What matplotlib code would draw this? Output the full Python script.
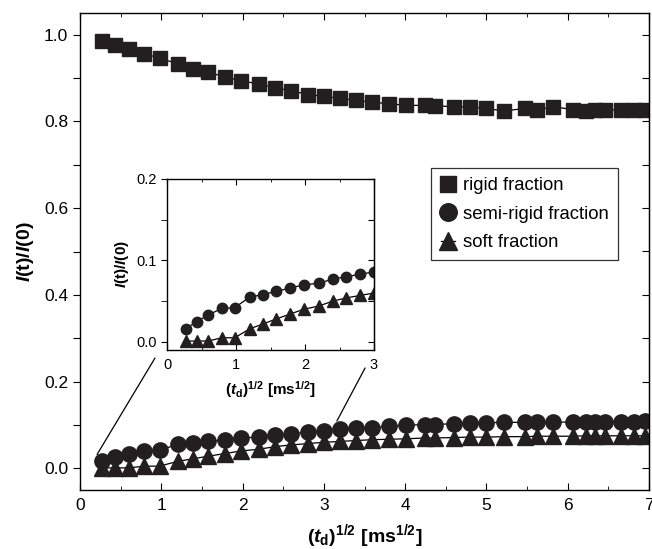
import matplotlib
matplotlib.use('Agg')
import matplotlib.pyplot as plt
from matplotlib.patches import ConnectionPatch
from matplotlib.ticker import MultipleLocator

plt.rcParams['font.family'] = ['Liberation Sans', 'DejaVu Sans']
plt.rcParams['mathtext.fontset'] = 'custom'
plt.rcParams['mathtext.rm'] = 'Liberation Sans:bold'
plt.rcParams['mathtext.bf'] = 'Liberation Sans:bold'
plt.rcParams['mathtext.it'] = 'Liberation Sans:italic:bold'

# sqrt of dipolar filter time [ms^1/2]
td_sqrt = [0.27, 0.43, 0.60, 0.79, 0.98, 1.20, 1.39, 1.58, 1.78, 1.98, 2.20, 2.40,
           2.60, 2.80, 3.00, 3.20, 3.39, 3.59, 3.80, 4.01, 4.24, 4.37, 4.60, 4.80,
           4.99, 5.22, 5.47, 5.62, 5.82, 6.07, 6.22, 6.34, 6.46, 6.66, 6.82, 6.95]

rigid = [0.985, 0.977, 0.967, 0.956, 0.946, 0.933, 0.922, 0.913, 0.903, 0.893, 0.887, 0.877,
         0.871, 0.862, 0.858, 0.853, 0.849, 0.844, 0.841, 0.837, 0.837, 0.836, 0.834, 0.833,
         0.830, 0.824, 0.830, 0.826, 0.834, 0.827, 0.824, 0.826, 0.827, 0.826, 0.826, 0.826]

semi_rigid = [0.016, 0.025, 0.033, 0.041, 0.042, 0.055, 0.058, 0.062, 0.066, 0.070, 0.072, 0.077,
              0.080, 0.083, 0.086, 0.090, 0.094, 0.094, 0.097, 0.099, 0.101, 0.101, 0.103, 0.104,
              0.105, 0.106, 0.106, 0.106, 0.106, 0.107, 0.107, 0.107, 0.107, 0.107, 0.107, 0.108]

soft = [0.001, 0.001, 0.001, 0.005, 0.005, 0.016, 0.022, 0.028, 0.034, 0.040, 0.044, 0.050,
        0.054, 0.057, 0.060, 0.062, 0.064, 0.066, 0.067, 0.068, 0.070, 0.070, 0.071, 0.072,
        0.072, 0.073, 0.073, 0.074, 0.074, 0.074, 0.075, 0.075, 0.075, 0.075, 0.075, 0.075]

mk_color = '#231f20'
xlabel = r'$\mathrm{(}t_\mathrm{d}\mathrm{)}^{\mathrm{1/2}}\ \mathrm{[ms}^{\mathrm{1/2}}\mathrm{]}$'
ylabel = r'$I\mathrm{(t)/}I\mathrm{(0)}$'


def style_axes(ax, xmajor, xminor, ymajor, yminor, lab_size, tick_len):
    ax.xaxis.set_major_locator(MultipleLocator(xmajor))
    ax.xaxis.set_minor_locator(MultipleLocator(xminor))
    ax.yaxis.set_major_locator(MultipleLocator(ymajor))
    ax.yaxis.set_minor_locator(MultipleLocator(yminor))
    ax.tick_params(axis='x', which='both', direction='in', top=True, bottom=True,
                   labelsize=lab_size, pad=6)
    ax.tick_params(axis='x', which='major', length=tick_len)
    ax.tick_params(axis='x', which='minor', length=tick_len * 0.55)
    ax.tick_params(axis='y', which='both', direction='out', left=True, right=False,
                   labelsize=lab_size, length=tick_len)
    sec = ax.secondary_yaxis('right')
    sec.yaxis.set_major_locator(MultipleLocator(yminor))
    sec.tick_params(axis='y', direction='in', length=tick_len, labelright=False)
    for s in ax.spines.values():
        s.set_linewidth(1.0)
    return sec


fig = plt.figure(figsize=(6.52, 5.49), dpi=100)
ax = fig.add_axes([80 / 652, 1 - 490 / 549, 569 / 652, 477 / 549])

ax.plot(td_sqrt, rigid, color='black', lw=0.9, marker='s', ms=10.5,
        mfc=mk_color, mec=mk_color, label='rigid fraction')
ax.plot(td_sqrt, semi_rigid, color='black', lw=0.9, marker='o', ms=11,
        mfc=mk_color, mec=mk_color, label='semi-rigid fraction')
ax.plot(td_sqrt, soft, color='black', lw=0.9, marker='^', ms=11,
        mfc=mk_color, mec=mk_color, label='soft fraction')

ax.set_xlim(0, 7)
ax.set_ylim(-0.05, 1.05)
style_axes(ax, 1, 0.5, 0.2, 0.1, 12.5, 5)
ax.set_yticks([0.0, 0.1, 0.2, 0.3, 0.4, 0.5, 0.6, 0.7, 0.8, 0.9, 1.0], minor=False)
ax.set_yticklabels(['0.0', '', '0.2', '', '0.4', '', '0.6', '', '0.8', '', '1.0'])
ax.yaxis.set_minor_locator(plt.NullLocator())
ax.set_xlabel(xlabel, fontsize=14, labelpad=6)
ax.set_ylabel(ylabel, fontsize=14, labelpad=6)

leg = ax.legend(loc='upper right', bbox_to_anchor=(0.945, 0.675), borderaxespad=0,
                fontsize=13.3, frameon=True, fancybox=False, edgecolor='black',
                handlelength=0.8, handletextpad=0.4, labelspacing=0.62,
                borderpad=0.5, markerscale=1.15)
leg.get_frame().set_linewidth(0.9)

# inset with the early-time region
ins = fig.add_axes([167 / 652, 1 - 350 / 549, 207 / 652, 171 / 549])
ins.plot(td_sqrt, semi_rigid, color='black', lw=0.9, marker='o', ms=7.5,
         mfc=mk_color, mec=mk_color)
ins.plot(td_sqrt, soft, color='black', lw=0.9, marker='^', ms=8,
         mfc=mk_color, mec=mk_color)
ins.set_xlim(0, 3)
ins.set_ylim(-0.01, 0.2)
style_axes(ins, 1, 0.5, 0.1, 0.05, 10.5, 4)
ins.yaxis.set_minor_locator(MultipleLocator(0.05))
ins.tick_params(axis='y', which='minor', direction='out', length=4)
ins.set_yticks([0.0, 0.1, 0.2])
ins.set_yticklabels(['0.0', '0.1', '0.2'])
ins.set_xlabel(xlabel, fontsize=11, labelpad=5)
ins.set_ylabel(ylabel, fontsize=11, labelpad=4)

# zoom indicator lines
for xy_main, xy_ins in [((0.21, 0.032), (-0.058, -0.047)), ((3.16, 0.109), (0.957, -0.105))]:
    con = ConnectionPatch(xyA=xy_main, coordsA=ax.transData,
                          xyB=xy_ins, coordsB=ins.transAxes,
                          color='black', lw=0.9)
    fig.add_artist(con)

fig.savefig('out.png', dpi=100)
